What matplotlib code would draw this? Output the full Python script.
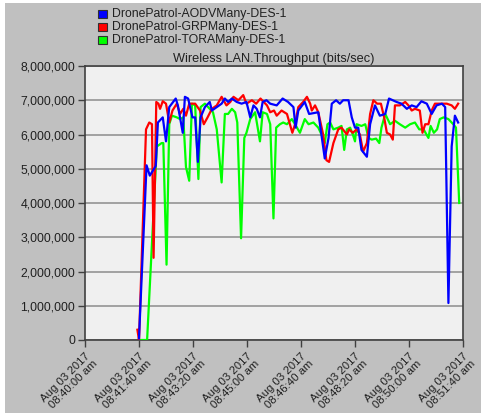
import matplotlib
matplotlib.use('Agg')
import matplotlib.pyplot as plt
import matplotlib.dates as mdates
from matplotlib.patches import Rectangle
from matplotlib.ticker import FuncFormatter, MultipleLocator
from datetime import datetime, timedelta

plt.rcParams['font.family'] = ['Liberation Sans', 'DejaVu Sans']

# Throughput (millions of bits/sec), time in seconds after 08:40:00
start = datetime(2017, 8, 3, 8, 40, 0)

aodv_t = [100, 114, 120, 131, 135, 144, 150, 156, 168, 172, 181, 185, 191, 199, 204,
          209, 214, 222, 231, 235, 244, 253, 259, 265, 272, 281, 290, 299, 306, 312,
          318, 324, 329, 336, 343, 355, 366, 376, 386, 390, 395, 407, 415, 432, 444,
          451, 457, 465, 472, 478, 488, 494, 500, 506, 512, 522, 528, 537, 546, 556,
          563, 577, 586, 596, 605, 614, 623, 633, 642, 651, 661, 667, 673, 679, 685, 691]
aodv_v = [0.05, 5.1, 4.8, 5.08, 6.35, 6.5, 5.8, 6.8, 7.05, 6.85, 6.05, 7.1, 7.05, 6.5, 6.5,
          5.2, 6.5, 6.8, 6.95, 6.7, 6.8, 6.9, 7.05, 6.95, 7.05, 6.95, 6.9, 6.95, 6.5, 6.85,
          6.75, 6.5, 6.95, 7.0, 6.9, 6.85, 7.05, 6.95, 6.8, 6.2, 6.7, 6.95, 6.6, 6.65, 5.3,
          5.9, 6.9, 7.0, 6.9, 7.0, 7.0, 6.5, 6.2, 6.2, 5.55, 5.35, 6.3, 6.85, 6.55, 6.6,
          7.05, 6.95, 6.9, 6.75, 6.85, 6.8, 6.97, 6.9, 6.6, 6.85, 6.9, 6.8, 1.08, 5.65, 6.55, 6.35]

grp_t = [97, 100, 113, 119, 124, 127, 132, 136, 139, 144, 150, 156, 162, 170, 176,
         182, 187, 193, 204, 213, 220, 227, 235, 244, 253, 262, 269, 275, 284, 293,
         299, 309, 317, 325, 337, 343, 350, 355, 364, 374, 384, 389, 395, 404, 411,
         417, 420, 426, 432, 441, 447, 452, 460, 469, 475, 485, 489, 496, 503, 509,
         515, 522, 528, 534, 541, 548, 554, 559, 565, 570, 574, 583, 593, 599, 605,
         611, 620, 625, 630, 636, 642, 648, 657, 670, 679, 685, 691]
grp_v = [0.3, 0.0, 6.15, 6.35, 6.3, 2.4, 6.95, 6.9, 6.75, 6.97, 6.9, 6.35, 6.7, 6.9, 6.6,
         6.75, 6.55, 6.9, 6.9, 6.7, 6.3, 6.5, 6.75, 6.85, 7.1, 6.85, 6.95, 7.1, 7.0, 7.15,
         6.9, 7.0, 6.9, 7.05, 6.85, 6.65, 6.7, 6.55, 6.7, 6.6, 6.05, 6.3, 6.8, 6.95, 7.1,
         6.9, 6.7, 6.85, 6.65, 6.0, 5.25, 5.2, 5.75, 6.15, 6.2, 6.0, 6.15, 6.05, 6.15, 6.0,
         5.5, 5.75, 6.6, 7.0, 6.9, 6.9, 6.5, 6.05, 6.0, 5.85, 6.85, 6.85, 6.95, 6.85, 6.7,
         6.75, 6.7, 6.05, 6.3, 6.3, 6.7, 6.9, 6.9, 6.9, 6.85, 6.75, 6.9]

tora_t = [102, 115, 133, 142, 145, 151, 156, 161, 170, 176, 182, 187, 193, 198, 204,
          210, 214, 222, 228, 237, 244, 253, 259, 265, 272, 278, 282, 289, 295, 299,
          306, 315, 324, 329, 337, 343, 349, 354, 361, 367, 374, 383, 389, 398, 407,
          414, 423, 432, 438, 444, 449, 454, 460, 469, 475, 480, 485, 491, 496, 500,
          503, 512, 519, 525, 531, 539, 545, 549, 556, 565, 574, 583, 593, 602, 611,
          619, 627, 636, 640, 646, 652, 657, 664, 673, 682, 687, 693]
tora_v = [0.0, 0.0, 5.65, 5.75, 5.75, 2.2, 6.3, 6.55, 6.5, 6.45, 6.5, 5.05, 4.65, 6.9, 6.85,
          4.7, 6.8, 6.9, 6.8, 6.65, 6.15, 4.6, 6.6, 6.6, 6.75, 6.65, 6.35, 2.97, 5.9, 6.05,
          6.45, 6.65, 5.8, 6.65, 6.6, 6.3, 3.55, 6.2, 6.3, 6.35, 6.3, 6.45, 6.3, 6.05, 6.45,
          6.3, 6.35, 6.2, 6.0, 5.75, 6.3, 6.35, 6.15, 6.2, 6.25, 5.55, 6.15, 6.2, 6.0, 5.8,
          6.3, 6.25, 6.3, 5.9, 5.85, 5.88, 5.75, 6.2, 6.6, 6.3, 6.4, 6.3, 6.2, 6.3, 6.35,
          6.15, 6.15, 5.9, 6.25, 6.05, 6.15, 6.45, 6.5, 6.45, 6.3, 6.2, 4.0]

labels = ['DronePatrol-AODVMany-DES-1', 'DronePatrol-GRPMany-DES-1', 'DronePatrol-TORAMany-DES-1']
colors = ['#0000ff', '#ff0000', '#00ff00']


def to_dates(secs):
    return [start + timedelta(seconds=s) for s in secs]


fig = plt.figure(figsize=(4.9, 4.15), dpi=100, facecolor='white')
W, H = 490, 415
# grey panel behind everything
fig.patches.append(Rectangle((5 / W, 2 / H), 476 / W, 410 / H, transform=fig.transFigure,
                             facecolor='#c0c0c0', edgecolor='none', zorder=-5))

ax = fig.add_axes([85 / W, 1 - 340 / H, 378 / W, 274 / H])
ax.set_zorder(1)
ax.set_facecolor('#f0f0f0')

ax.plot(to_dates(tora_t), [v * 1e6 for v in tora_v], color=colors[2], lw=1.6, zorder=3)
ax.plot(to_dates(grp_t), [v * 1e6 for v in grp_v], color=colors[1], lw=1.6, zorder=4)
ax.plot(to_dates(aodv_t), [v * 1e6 for v in aodv_v], color=colors[0], lw=1.6, zorder=5)

ax.set_ylim(0, 8e6)
ax.set_xlim(start, start + timedelta(seconds=700))
ax.yaxis.set_major_locator(MultipleLocator(1e6))
ax.yaxis.set_major_formatter(FuncFormatter(lambda v, p: f'{int(v):,}'))
ax.grid(axis='y', color='#8c8c8c', lw=1.1)
ax.set_axisbelow(True)

ticks = [start + timedelta(seconds=100 * i) for i in range(8)]
ax.set_xticks(ticks)


def fmt_time(x, pos):
    d = mdates.num2date(x)
    return d.strftime('%b %d %Y') + '\n' + d.strftime('%I:%M:%S ') + d.strftime('%p').lower()


ax.xaxis.set_major_formatter(FuncFormatter(fmt_time))
for lab in ax.get_xticklabels():
    lab.set_rotation(45)
    lab.set_ha('right')
    lab.set_rotation_mode('anchor')
    lab.set_multialignment('right')
    lab.set_fontsize(8.2)
    lab.set_linespacing(1.0)

ax.tick_params(axis='both', direction='out', length=5, width=1, color='#404040',
               labelcolor='#202020')
ax.tick_params(axis='x', pad=3)
ax.tick_params(axis='y', pad=2, labelsize=8.8)
for s in ax.spines.values():
    s.set_color('#404040')
    s.set_linewidth(1.2)

ax.set_title('Wireless LAN.Throughput (bits/sec)', fontsize=9.2, color='#202020', pad=3)

# legend block at top left
for i, (lab, c) in enumerate(zip(labels, colors)):
    yc = 14 + 13 * i
    fig.patches.append(Rectangle((98 / W, 1 - (yc + 4) / H), 9 / W, 8 / H,
                                 transform=fig.transFigure, facecolor=c,
                                 edgecolor='#303030', lw=0.8, zorder=2))
    fig.text(112 / W, 1 - yc / H, lab, fontsize=8.8, va='center', ha='left', color='#202020')

fig.savefig('out.png', dpi=100, facecolor=fig.get_facecolor())
